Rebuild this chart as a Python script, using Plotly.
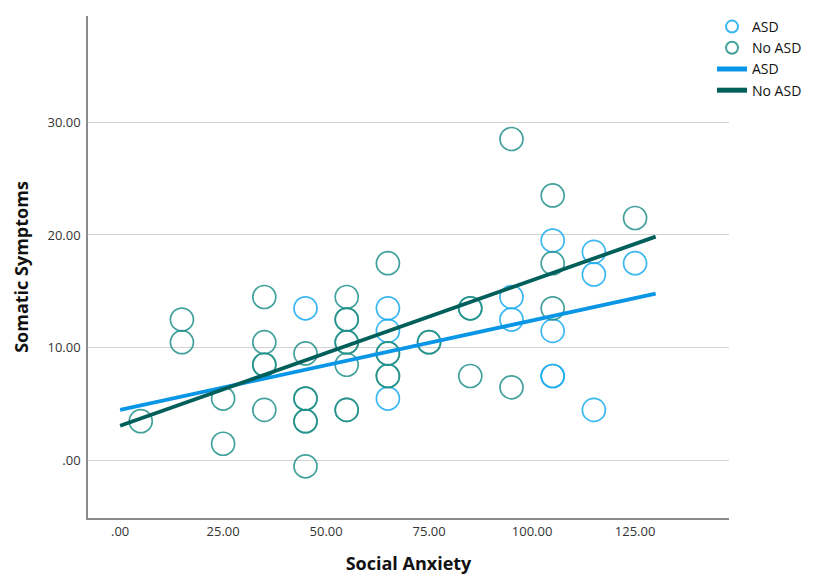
import plotly.graph_objects as go

# ASD group (Social Anxiety, Somatic Symptoms)
asd_x = [45, 65, 65, 65, 95, 95, 105, 105, 105, 105, 115, 115, 115, 125]
asd_y = [13.5, 13.5, 11.5, 5.5, 14.5, 12.5, 19.5, 11.5, 7.5, 7.5, 18.5, 16.5, 4.5, 17.5]

# No ASD group
noasd_x = [5, 15, 15, 25, 25, 35, 35, 35, 35, 35, 45, 45, 45, 45, 45, 45,
           55, 55, 55, 55, 55, 55, 55, 55, 65, 65, 65, 65, 65, 75, 75,
           85, 85, 85, 95, 95, 105, 105, 105, 125]
noasd_y = [3.5, 12.5, 10.5, 5.5, 1.5, 14.5, 10.5, 8.5, 8.5, 4.5, 9.5, 5.5, 5.5, 3.5, 3.5, -0.5,
           14.5, 12.5, 12.5, 10.5, 10.5, 8.5, 4.5, 4.5, 17.5, 9.5, 9.5, 7.5, 7.5, 10.5, 10.5,
           13.5, 13.5, 7.5, 28.5, 6.5, 23.5, 17.5, 13.5, 21.5]

# Fit lines (endpoints)
fit_x = [0, 130]
asd_fit = [4.5, 14.8]
noasd_fit = [3.1, 19.85]

x_ticks = [0, 25, 50, 75, 100, 125]
x_labels = [".00", "25.00", "50.00", "75.00", "100.00", "125.00"]
y_ticks = [0, 10, 20, 30]
y_labels = [".00", "10.00", "20.00", "30.00"]

ASD_PT = "#18aaee"
NOASD_PT = "#21908b"
ASD_LN = "#0a96e6"
NOASD_LN = "#005f5a"

fig = go.Figure()
fig.add_trace(go.Scatter(
    x=asd_x, y=asd_y, mode="markers", name="ASD",
    marker=dict(symbol="circle-open", size=23, color=ASD_PT, opacity=0.85,
                line=dict(width=1.7)),
))
fig.add_trace(go.Scatter(
    x=noasd_x, y=noasd_y, mode="markers", name="No ASD",
    marker=dict(symbol="circle-open", size=23, color=NOASD_PT, opacity=0.85,
                line=dict(width=1.7)),
))
fig.add_trace(go.Scatter(
    x=fit_x, y=asd_fit, mode="lines", name="ASD",
    line=dict(color=ASD_LN, width=3.8),
))
fig.add_trace(go.Scatter(
    x=fit_x, y=noasd_fit, mode="lines", name="No ASD",
    line=dict(color=NOASD_LN, width=3.8),
))

fig.update_layout(
    width=810, height=567,
    margin=dict(l=80, r=89, t=8, b=57, autoexpand=False),
    paper_bgcolor="white", plot_bgcolor="white",
    font=dict(family="Open Sans", size=13, color="#333333"),
    showlegend=True,
    legend=dict(x=0.9735, y=1.01, xanchor="left", yanchor="top",
                font=dict(size=14, color="#111111"), itemsizing="constant",
                tracegroupgap=0, itemwidth=30, bgcolor="rgba(0,0,0,0)"),
    xaxis=dict(
        range=[-7.8, 147.8], tickmode="array", tickvals=x_ticks, ticktext=x_labels,
        showgrid=False, zeroline=False, showline=True, linecolor="#8a8a8a", linewidth=1.5,
        ticks="", ticklabelstandoff=1, tickfont=dict(size=13, color="#333333"),
        title=dict(text="<b>Social Anxiety</b>", font=dict(size=18, color="#111111"), standoff=20),
    ),
    yaxis=dict(
        range=[-5.08, 39.4], tickmode="array", tickvals=y_ticks, ticktext=y_labels,
        showgrid=True, gridcolor="#d2d2d2", gridwidth=1, zeroline=False,
        showline=True, linecolor="#8a8a8a", linewidth=1.5,
        ticks="", ticklabelstandoff=3, tickfont=dict(size=13, color="#333333"),
        title=dict(text="<b>Somatic Symptoms</b>", font=dict(size=18, color="#111111"), standoff=14),
    ),
)

fig.write_html("out.html")
